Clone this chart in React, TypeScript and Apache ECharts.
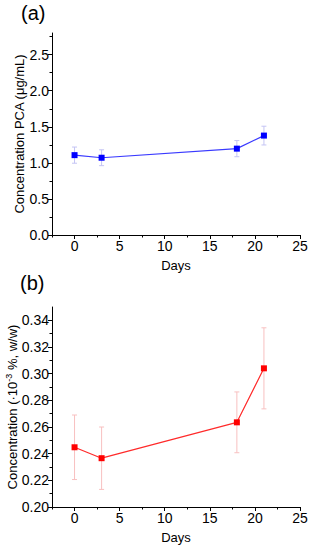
import React, { useEffect, useRef } from "react";
import * as echarts from "echarts";

const days = [0, 3, 18, 21];
const pcaMean = [1.107, 1.071, 1.197, 1.378];
const pcaErr = [0.112, 0.11, 0.112, 0.13];
const concMean = [0.2448, 0.2366, 0.2635, 0.304];
const concErr = [0.0242, 0.0234, 0.0228, 0.0304];

const xMajor = [0, 5, 10, 15, 20, 25];
const xMinor = [-2.5, 2.5, 7.5, 12.5, 17.5, 22.5];
const yTopMajor = [0, 0.5, 1.0, 1.5, 2.0, 2.5];
const yTopMinor = [0.25, 0.75, 1.25, 1.75, 2.25, 2.75];
const yBotMajor = [0.2, 0.22, 0.24, 0.26, 0.28, 0.3, 0.32, 0.34];
const yBotMinor = [0.21, 0.23, 0.25, 0.27, 0.29, 0.31, 0.33];

const FONT = "'Liberation Sans', Arial, sans-serif";

function errorSeries(xIdx: number, yIdx: number, mean: number[], err: number[], color: string) {
  return {
    type: "custom",
    xAxisIndex: xIdx,
    yAxisIndex: yIdx,
    silent: true,
    z: 1,
    data: days.map((d, i) => [d, mean[i], err[i]]),
    renderItem: (params: any, api: any) => {
      const x = api.value(0);
      const y = api.value(1);
      const e = api.value(2);
      const t = api.coord([x, y + e]);
      const b = api.coord([x, y - e]);
      const w = 2.5;
      const st = { stroke: color, lineWidth: 1 };
      return {
        type: "group",
        children: [
          { type: "line", shape: { x1: t[0], y1: t[1], x2: b[0], y2: b[1] }, style: st },
          { type: "line", shape: { x1: t[0] - w, y1: t[1], x2: t[0] + w, y2: t[1] }, style: st },
          { type: "line", shape: { x1: b[0] - w, y1: b[1], x2: b[0] + w, y2: b[1] }, style: st },
        ],
      };
    },
  };
}

function mainX(gridIndex: number) {
  return {
    type: "value",
    gridIndex,
    min: -2.5,
    max: 25,
    name: "Days",
    nameLocation: "middle",
    nameGap: 24,
    nameMoveOverlap: false,
    nameTextStyle: { fontFamily: FONT, fontSize: 13, color: "#000" },
    splitLine: { show: false },
    axisLine: { show: true, onZero: false, lineStyle: { color: "#000", width: 1 } },
    axisTick: { show: true, length: 4, customValues: xMajor, lineStyle: { color: "#000" } },
    axisLabel: { customValues: xMajor, margin: 4, fontFamily: FONT, fontSize: 14, color: "#000" },
  };
}
function minorX(gridIndex: number) {
  return {
    type: "value",
    gridIndex,
    min: -2.5,
    max: 25,
    position: "bottom",
    splitLine: { show: false },
    axisLine: { show: false, onZero: false },
    axisTick: { show: true, length: 2.5, customValues: xMinor, lineStyle: { color: "#000" } },
    axisLabel: { show: false },
  };
}
function mainY(gridIndex: number, min: number, max: number, major: number[], name: any, fmt: (v: number) => string, nameGap: number, rich?: any) {
  return {
    type: "value",
    gridIndex,
    min,
    max,
    name,
    nameLocation: "middle",
    nameGap,
    nameRotate: 90,
    nameMoveOverlap: false,
    nameTextStyle: { fontFamily: FONT, fontSize: 13, color: "#000", rich },
    splitLine: { show: false },
    axisLine: { show: true, onZero: false, lineStyle: { color: "#000", width: 1 } },
    axisTick: { show: true, length: 4, customValues: major, lineStyle: { color: "#000" } },
    axisLabel: { customValues: major, margin: 3, fontFamily: FONT, fontSize: 14, color: "#000", formatter: fmt },
  };
}
function minorY(gridIndex: number, min: number, max: number, minor: number[]) {
  return {
    type: "value",
    gridIndex,
    min,
    max,
    position: "left",
    splitLine: { show: false },
    axisLine: { show: false, onZero: false },
    axisTick: { show: true, length: 2.5, customValues: minor, lineStyle: { color: "#000" } },
    axisLabel: { show: false },
  };
}

export default function App() {
  const ref = useRef<HTMLDivElement>(null);
  useEffect(() => {
    if (!ref.current) return;
    const chart = echarts.init(ref.current, null, { renderer: "svg" });
    chart.setOption({
      animation: false,
      backgroundColor: "#fff",
      title: [
        { text: "(a)", left: 21, top: 3, padding: 0, textStyle: { fontFamily: FONT, fontSize: 20, fontWeight: "normal", color: "#000" } },
        { text: "(b)", left: 20, top: 273, padding: 0, textStyle: { fontFamily: FONT, fontSize: 20, fontWeight: "normal", color: "#000" } },
      ],
      grid: [
        { left: 52, top: 33, width: 248, height: 202, containLabel: false, outerBoundsMode: "none" },
        { left: 52, top: 307, width: 248, height: 200, containLabel: false, outerBoundsMode: "none" },
      ],
      xAxis: [mainX(0), minorX(0), mainX(1), minorX(1)],
      yAxis: [
        mainY(0, 0, 2.8, yTopMajor, "Concentration PCA (μg/mL)", (v) => v.toFixed(1), 26),
        minorY(0, 0, 2.8, yTopMinor),
        mainY(1, 0.2, 0.35, yBotMajor, "Concentration (·10{sup|-3} %, w/w)", (v) => v.toFixed(2), 31.5, {
          sup: { fontFamily: FONT, fontSize: 9, color: "#000", verticalAlign: "top", lineHeight: 16 },
        }),
        minorY(1, 0.2, 0.35, yBotMinor),
      ],
      series: [
        errorSeries(0, 0, pcaMean, pcaErr, "#c4c4f4"),
        {
          type: "line",
          xAxisIndex: 0,
          yAxisIndex: 0,
          z: 3,
          data: days.map((d, i) => [d, pcaMean[i]]),
          symbol: "rect",
          symbolSize: 6,
          lineStyle: { color: "#3a3aff", width: 1.2 },
          itemStyle: { color: "#0000ff" },
        },
        errorSeries(2, 2, concMean, concErr, "#f8c0c0"),
        {
          type: "line",
          xAxisIndex: 2,
          yAxisIndex: 2,
          z: 3,
          data: days.map((d, i) => [d, concMean[i]]),
          symbol: "rect",
          symbolSize: 6,
          lineStyle: { color: "#ff2a2a", width: 1.2 },
          itemStyle: { color: "#ff0000" },
        },
      ],
    });
    return () => chart.dispose();
  }, []);
  return <div ref={ref} style={{ width: 311, height: 550, position: "fixed", left: 0, top: 0 }} />;
}
